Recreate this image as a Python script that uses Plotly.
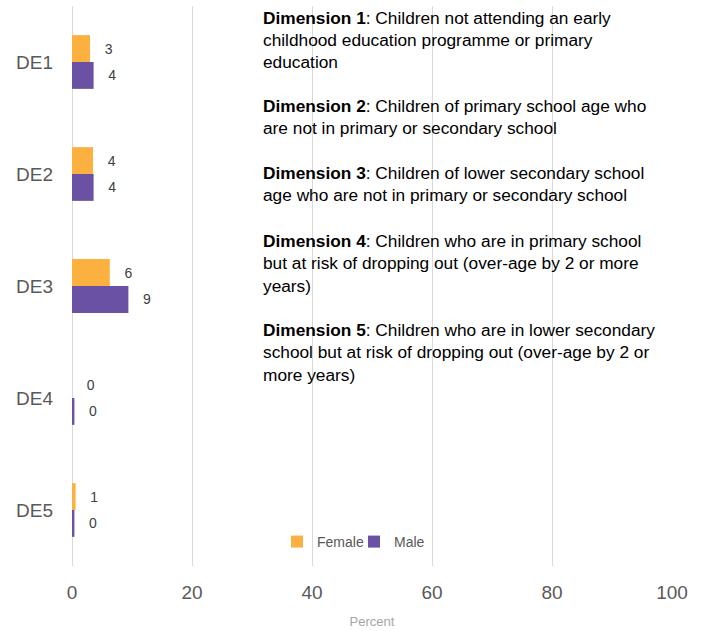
import plotly.graph_objects as go

categories = ["DE1", "DE2", "DE3", "DE4", "DE5"]
female = [3.0, 3.5, 6.3, 0.0, 0.6]
male = [3.6, 3.6, 9.4, 0.4, 0.4]

dimension_lines = [
    "<b>Dimension 1</b>: Children not attending an early",
    "childhood education programme or primary",
    "education",
    "<b>Dimension 2</b>: Children of primary school age who",
    "are not in primary or secondary school",
    "<b>Dimension 3</b>: Children of lower secondary school",
    "age who are not in primary or secondary school",
    "<b>Dimension 4</b>: Children who are in primary school",
    "but at risk of dropping out (over-age by 2 or more",
    "years)",
    "<b>Dimension 5</b>: Children who are in lower secondary",
    "school but at risk of dropping out (over-age by 2 or",
    "more years)",
]
line_pix_y = [18, 40, 62, 106, 128, 173, 195, 241, 263, 286, 330, 352, 375]

W, H = 709, 631
L, R, T, B = 72, 37, 6, 65
plot_h = H - T - B
plot_w = W - L - R

FONT = "Liberation Sans, Arial, sans-serif"
ORANGE = "#FBB040"
PURPLE = "#6A51A3"
NB = "\u00a0"

fig = go.Figure()
fig.add_trace(go.Bar(
    y=categories, x=female, name="Female", orientation="h",
    marker=dict(color=ORANGE, line=dict(width=0)),
    texttemplate=NB * 3 + "%{x:.0f}", textposition="outside",
    textfont=dict(color="#404040", size=14, family=FONT), cliponaxis=False,
))
fig.add_trace(go.Bar(
    y=categories, x=male, name="Male", orientation="h",
    marker=dict(color=PURPLE, line=dict(width=0)),
    texttemplate=NB * 3 + "%{x:.0f}", textposition="outside",
    textfont=dict(color="#404040", size=14, family=FONT), cliponaxis=False,
))

for txt, py in zip(dimension_lines, line_pix_y):
    fig.add_annotation(
        text=txt, xref="paper", yref="paper",
        x=(261 - L) / plot_w, y=(H - B - py) / plot_h,
        xanchor="left", yanchor="middle", showarrow=False, align="left",
        font=dict(family=FONT, size=17.3, color="#000000"),
    )

fig.update_layout(
    width=W, height=H,
    margin=dict(l=L, r=R, t=T, b=B, pad=0),
    paper_bgcolor="white", plot_bgcolor="white",
    barmode="group", bargap=0.52, bargroupgap=0,
    font=dict(family=FONT, color="#595959"),
    showlegend=True,
    legend=dict(
        orientation="h", x=(277 - L) / plot_w, y=(H - B - 542) / plot_h,
        xanchor="left", yanchor="middle",
        font=dict(size=14, color="#595959", family=FONT),
        bgcolor="rgba(0,0,0,0)", itemwidth=30, traceorder="normal",
        entrywidth=32, entrywidthmode="pixels",
    ),
    xaxis=dict(
        range=[0, 100], tickvals=[0, 20, 40, 60, 80, 100],
        showgrid=True, gridcolor="#D9D9D9", gridwidth=1,
        zeroline=True, zerolinecolor="#D9D9D9", zerolinewidth=1,
        ticks="", ticklabelstandoff=13, automargin=False,
        tickfont=dict(size=19, color="#595959", family=FONT),
        title=dict(text="Percent", font=dict(size=13, color="#A6A6A6", family=FONT), standoff=14),
        showline=False,
    ),
    yaxis=dict(
        autorange="reversed", showgrid=False, zeroline=False, showline=False,
        ticks="", ticklabelstandoff=18, automargin=False,
        tickfont=dict(size=19, color="#595959", family=FONT),
    ),
)

fig.write_html("out.html")
